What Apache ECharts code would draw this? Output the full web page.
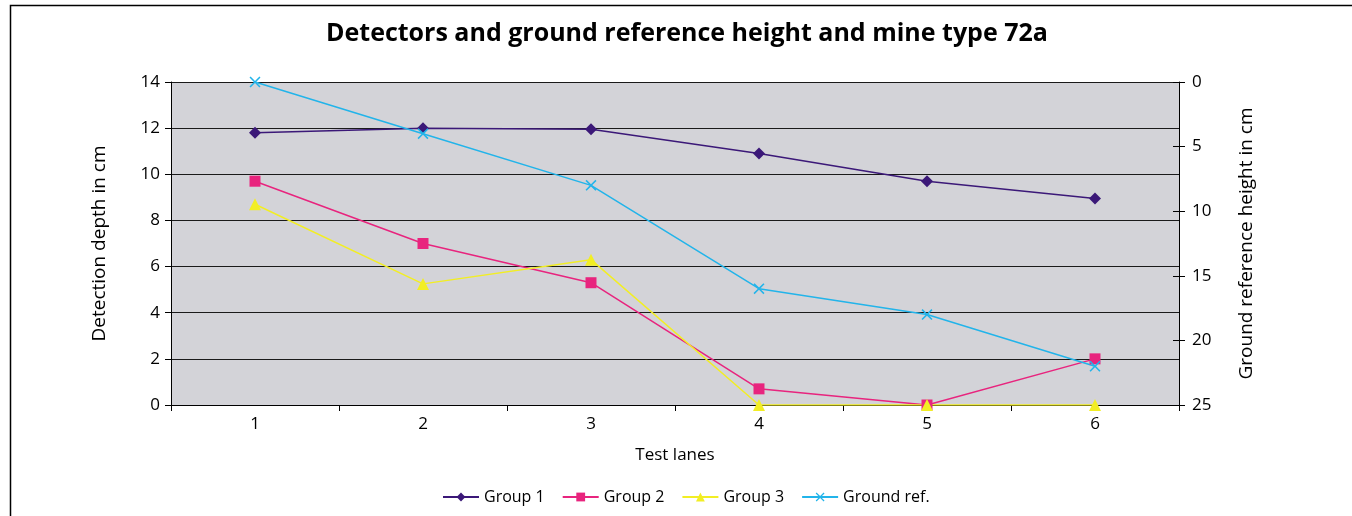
<!DOCTYPE html>
<html>
<head>
<meta charset="utf-8">
<script src="https://cdn.jsdelivr.net/npm/echarts@6/dist/echarts.min.js"></script>
<style>
html,body{margin:0;padding:0;background:#fff;}
#c{width:1352px;height:516px;}
</style>
</head>
<body>
<div id="c"></div>
<script>
const categories = ['1','2','3','4','5','6'];
const group1 = [11.8, 12.0, 11.95, 10.9, 9.7, 8.95];
const group2 = [9.7, 7.0, 5.3, 0.7, 0, 2.0];
const group3 = [8.7, 5.25, 6.3, 0, 0, 0];
const groundRef = [0, 4, 8, 16, 18, 22];
const seriesNames = ['Group 1', 'Group 2', 'Group 3', 'Ground ref.'];

const FONT = 'Open Sans';
const xSymbol = 'path://M0,1 L1,0 L5,4 L9,0 L10,1 L6,5 L10,9 L9,10 L5,6 L1,10 L0,9 L4,5 Z';

const chart = echarts.init(document.getElementById('c'), null, {renderer: 'canvas'});
chart.setOption({
  animation: false,
  backgroundColor: '#ffffff',
  textStyle: {fontFamily: FONT},
  graphic: [{
    type: 'rect', z: -10, silent: true,
    shape: {x: 10.5, y: 5.5, width: 1400, height: 600},
    style: {fill: 'none', stroke: '#000', lineWidth: 1.5}
  }],
  title: {
    text: 'Detectors and ground reference height and mine type 72a',
    left: 321, top: 16,
    textStyle: {fontFamily: FONT, fontSize: 25, fontWeight: 'bold', color: '#000'}
  },
  legend: {
    bottom: 6, left: 437,
    itemWidth: 36, itemHeight: 11, itemGap: 17,
    textStyle: {fontFamily: FONT, fontSize: 16, color: '#000'},
    data: seriesNames
  },
  grid: {left: 171, right: 173, top: 82, bottom: 111, show: true, backgroundColor: '#d3d3d8', borderWidth: 0},
  xAxis: {
    type: 'category', data: categories, boundaryGap: true,
    name: 'Test lanes', nameLocation: 'middle', nameGap: 42,
    nameTextStyle: {fontFamily: FONT, fontSize: 17, color: '#000'},
    axisLine: {show: true, lineStyle: {color: '#000', width: 1}},
    axisTick: {show: true, inside: false, length: 6, lineStyle: {color: '#000'}},
    axisLabel: {fontFamily: FONT, fontSize: 17, color: '#000', margin: 11},
    splitLine: {show: false}
  },
  yAxis: [{
    type: 'value', min: 0, max: 14, interval: 2, position: 'left',
    name: 'Detection depth in cm', nameLocation: 'middle', nameGap: 62,
    nameTextStyle: {fontFamily: FONT, fontSize: 19, color: '#000'},
    axisLine: {show: true, lineStyle: {color: '#000', width: 1}},
    axisTick: {show: true, inside: false, length: 6, lineStyle: {color: '#000'}},
    axisLabel: {fontFamily: FONT, fontSize: 17, color: '#000', margin: 11},
    splitLine: {show: true, lineStyle: {color: '#1a1a1a', width: 1.2}}
  }, {
    type: 'value', min: 0, max: 25, interval: 5, position: 'right', inverse: true,
    name: 'Ground reference height in cm', nameLocation: 'middle', nameGap: 58,
    nameTextStyle: {fontFamily: FONT, fontSize: 19, color: '#000'},
    axisLine: {show: true, lineStyle: {color: '#000', width: 1}},
    axisTick: {show: true, inside: false, length: 6, lineStyle: {color: '#000'}},
    axisLabel: {fontFamily: FONT, fontSize: 17, color: '#000', margin: 13},
    splitLine: {show: false}
  }, {
    type: 'value', min: 0, max: 25, interval: 5, position: 'right', inverse: true,
    axisLine: {show: false},
    axisTick: {show: true, inside: true, length: 6, lineStyle: {color: '#000'}},
    axisLabel: {show: false},
    splitLine: {show: false}
  }],
  series: [{
    name: seriesNames[0], type: 'line', data: group1, yAxisIndex: 0,
    symbol: 'diamond', symbolSize: 12,
    lineStyle: {color: '#3b1878', width: 1.5},
    itemStyle: {color: '#3b1878'}
  }, {
    name: seriesNames[1], type: 'line', data: group2, yAxisIndex: 0,
    symbol: 'rect', symbolSize: 11,
    lineStyle: {color: '#e8247e', width: 1.5},
    itemStyle: {color: '#e8247e'}
  }, {
    name: seriesNames[2], type: 'line', data: group3, yAxisIndex: 0,
    symbol: 'triangle', symbolSize: 12,
    lineStyle: {color: '#f2ee24', width: 1.5},
    itemStyle: {color: '#f2ee24'}
  }, {
    name: seriesNames[3], type: 'line', data: groundRef, yAxisIndex: 1,
    symbol: xSymbol, symbolSize: 11,
    lineStyle: {color: '#22b4ea', width: 1.5},
    itemStyle: {color: '#22b4ea'}
  }]
});
</script>
</body>
</html>
